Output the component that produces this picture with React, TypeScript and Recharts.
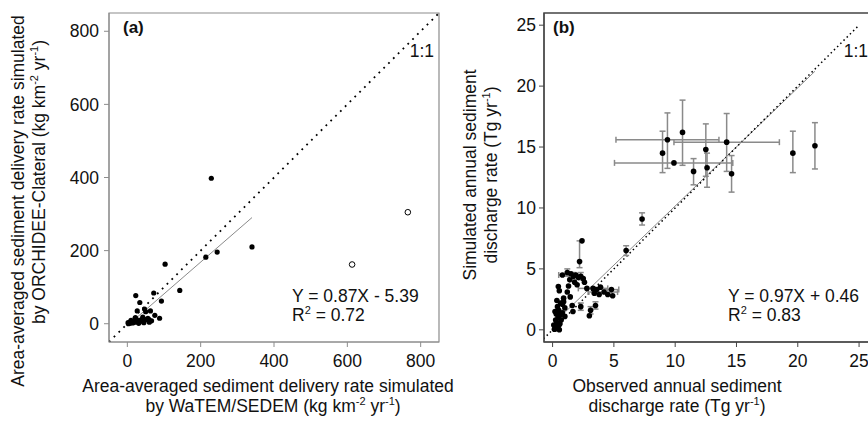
import { ScatterChart, Scatter, XAxis, YAxis, ReferenceLine, ReferenceArea, ErrorBar, Label } from 'recharts'

const FONT = "'Liberation Sans', Arial, sans-serif"
const FS = 17.5

// (a) sediment delivery, kg km-2 yr-1
const ticksA = [0, 200, 400, 600, 800]
const domainA: [number, number] = [-50, 850]

// WaTEM/SEDEM (x) vs ORCHIDEE-Clateral (y)
const basinsA = [
  { x: 229, y: 398 }, { x: 103, y: 163 }, { x: 214, y: 182 }, { x: 245, y: 196 },
  { x: 340, y: 210 }, { x: 143, y: 91 }, { x: 93, y: 62 }, { x: 72, y: 84 },
  { x: 23, y: 77 }, { x: 34, y: 58 }, { x: 27, y: 35 }, { x: 47, y: 40 },
  { x: 50, y: 33 }, { x: 63, y: 35 }, { x: 75, y: 23 }, { x: 88, y: 15 },
  { x: 56, y: 15 }, { x: 50, y: 11 }, { x: 59, y: 11 }, { x: 22, y: 17 },
  { x: 18, y: 8 }, { x: 13, y: 5 }, { x: 9, y: 2 }, { x: 28, y: 5 },
  { x: 39, y: 7 }, { x: 5, y: 1 }, { x: 3, y: 0 }, { x: 15, y: 2 },
  { x: 20, y: 4 }, { x: 31, y: 1 }, { x: 45, y: 3 }, { x: 66, y: 8 },
  { x: 42, y: 18 }, { x: 10, y: 9 }, { x: 60, y: 4 }, { x: 36, y: 10 },
  { x: 25, y: 12 }, { x: 2, y: 3 }, { x: 8, y: 5 },
]

// excluded from the fit
const outliersA = [
  { x: 613, y: 162 },
  { x: 765, y: 305 },
]

const fitA = { slope: 0.87, intercept: -5.39, r2: 0.72, xMin: 0, xMax: 340 }

// (b) annual sediment discharge, Tg yr-1
const ticksB = [0, 5, 10, 15, 20, 25]
const xDomainB: [number, number] = [-0.7, 26.3]
const yDomainB: [number, number] = [-1, 26]

// large rivers, with uncertainty ranges
const largeRiversB = [
  { x: 8.97, y: 14.5, ey: [1.6, 1.8] },
  { x: 9.37, y: 15.6, ex: [4.2, 4.2], ey: [2.35, 2.2] },
  { x: 10.6, y: 16.2, ey: [2.7, 2.65] },
  { x: 9.9, y: 13.7, ex: [4.85, 4.8] },
  { x: 11.5, y: 13.0, ey: [1.1, 1.05] },
  { x: 12.5, y: 14.8, ey: [2.2, 2.1] },
  { x: 12.6, y: 13.3, ey: [1.6, 1.2] },
  { x: 14.2, y: 15.4, ex: [4.3, 4.3], ey: [2.4, 2.35] },
  { x: 14.6, y: 12.8, ey: [1.5, 1.5] },
  { x: 19.6, y: 14.5, ey: [1.6, 1.8] },
  { x: 21.4, y: 15.1, ey: [1.9, 1.9] },
  { x: 7.3, y: 9.1, ey: [0.5, 0.5] },
  { x: 6.0, y: 6.5, ey: [0.4, 0.4] },
  { x: 2.4, y: 7.3 },
  { x: 2.2, y: 5.6, ey: [0.5, 1.7] },
]

const midRiversB = [
  { x: 0.8, y: 4.5, ex: [0.3, 0.5] }, { x: 1.2, y: 4.7, ey: [0.3, 0.3] },
  { x: 1.5, y: 4.6 }, { x: 1.7, y: 4.4, ey: [0.3, 0.3] }, { x: 1.9, y: 4.5 },
  { x: 2.1, y: 4.3 }, { x: 2.3, y: 4.4, ey: [0.3, 0.3] }, { x: 2.5, y: 4.2 },
  { x: 1.4, y: 4.1 }, { x: 1.8, y: 3.9 }, { x: 2.0, y: 3.7 }, { x: 2.6, y: 3.9 },
  { x: 1.3, y: 3.6 }, { x: 2.8, y: 3.4 }, { x: 3.3, y: 3.4, ex: [1.2, 1.2] },
  { x: 3.6, y: 3.3 }, { x: 3.9, y: 3.5 }, { x: 3.4, y: 3.0 }, { x: 3.8, y: 2.9 },
  { x: 4.2, y: 3.1, ex: [1.3, 1.1] }, { x: 4.8, y: 3.3, ex: [0.7, 0.6] },
  { x: 4.9, y: 2.8 }, { x: 4.5, y: 2.9 }, { x: 3.1, y: 1.6, ey: [0.3, 0.3] },
  { x: 3.5, y: 2.0, ey: [0.3, 0.3] }, { x: 3.0, y: 1.15 }, { x: 2.3, y: 1.9, ey: [0.3, 0.3] },
  { x: 1.6, y: 2.0 }, { x: 1.66, y: 1.5 }, { x: 1.0, y: 1.8 }, { x: 0.8, y: 2.1 },
  { x: 1.44, y: 2.7 }, { x: 0.47, y: 3.56 }, { x: 0.55, y: 3.2 }, { x: 0.9, y: 2.6 },
  { x: 1.2, y: 3.1 },
]

const smallRiversB = [
  { x: 0.22, y: 0.27 }, { x: 0.3, y: 0.1 }, { x: 0.15, y: 0.05 }, { x: 0.4, y: 0.2 },
  { x: 0.5, y: 0.35 }, { x: 0.35, y: 0.6 }, { x: 0.25, y: 0.8 }, { x: 0.6, y: 0.5 },
  { x: 0.45, y: 1.0 }, { x: 0.3, y: 1.3 }, { x: 0.6, y: 1.2 }, { x: 0.7, y: 0.8 },
  { x: 0.5, y: 1.6 }, { x: 0.4, y: 1.9 }, { x: 0.65, y: 2.2 }, { x: 0.2, y: 1.5 },
  { x: 0.8, y: 1.4 }, { x: 0.1, y: 0.4 }, { x: 0.55, y: 0.0 }, { x: 1.0, y: 1.1 },
  { x: 0.9, y: 2.3 }, { x: 0.35, y: 2.4 },
]

const fitB = { slope: 0.97, intercept: 0.46, r2: 0.83, xMin: 0.1, xMax: 21.4 }

const fitLine = (f: typeof fitA) => [
  { x: f.xMin, y: f.slope * f.xMin + f.intercept },
  { x: f.xMax, y: f.slope * f.xMax + f.intercept },
]

const fmtFit = (f: typeof fitA) =>
  `Y = ${f.slope.toFixed(2)}X ${f.intercept < 0 ? '-' : '+'} ${Math.abs(f.intercept).toFixed(2)}`

const dot = (r: number) => (p: any) => <circle cx={p.cx} cy={p.cy} r={r} fill="#000" />
const ring = (p: any) => <circle cx={p.cx} cy={p.cy} r={2.8} fill="#fff" stroke="#000" strokeWidth={1} />

const textProps = { fontFamily: FONT, fontSize: FS, fill: '#111' }

// superscript, then the rest of the text back on the baseline
const sup = (s: string, rest: string) => [
  <tspan key="u" dy={-7} fontSize={11}>{s}</tspan>,
  <tspan key="d" dy={7}>{rest}</tspan>,
]

const units = (pre: string) => (
  <>
    {pre}
    <tspan dy={-7} fontSize={11}>-2</tspan>
    <tspan dy={7}> yr</tspan>
    <tspan dy={-7} fontSize={11}>-1</tspan>
    <tspan dy={7}>)</tspan>
  </>
)

const Annotations = ({ tag, tagX, eqX, oneX, fit }: { tag: string; tagX: number; eqX: number; oneX: number; fit: typeof fitA }) => (
  <g>
    <text x={tagX} y={33} {...textProps} fontWeight="bold" fontSize={17}>{tag}</text>
    <text x={oneX} y={57} {...textProps} textAnchor="end">1:1</text>
    <text x={eqX} y={302} {...textProps}>{fmtFit(fit)}</text>
    <text x={eqX} y={321} {...textProps}>
      R{sup('2', ` = ${fit.r2.toFixed(2)}`)}
    </text>
  </g>
)

function PanelA() {
  return (
    <ScatterChart width={480} height={424} margin={{ top: 13, right: 41, left: 0, bottom: 0 }}>
      <XAxis
        type="number"
        dataKey="x"
        domain={domainA}
        ticks={ticksA}
        allowDataOverflow
        height={82}
        tickSize={5}
        tickMargin={8}
        stroke="#8c8c8c"
        tick={{ ...textProps }}
      >
        <Label
          content={() => (
            <g>
              <text x={268} y={392} {...textProps} textAnchor="middle">
                Area-averaged sediment delivery rate simulated
              </text>
              <text x={273} y={412} {...textProps} textAnchor="middle">
                {units('by WaTEM/SEDEM (kg km')}
              </text>
            </g>
          )}
        />
      </XAxis>
      <YAxis
        type="number"
        dataKey="y"
        domain={domainA}
        ticks={ticksA}
        allowDataOverflow
        width={109}
        tickSize={5}
        tickMargin={5}
        stroke="#8c8c8c"
        tick={{ ...textProps }}
      >
        <Label
          content={() => (
            <g>
              <text x={24} y={201} {...textProps} textAnchor="middle" transform="rotate(-90 24 201)">
                Area-averaged sediment delivery rate simulated
              </text>
              <text x={45} y={182} {...textProps} textAnchor="middle" transform="rotate(-90 45 182)">
                {units('by ORCHIDEE-Clateral (kg km')}
              </text>
            </g>
          )}
        />
      </YAxis>
      <ReferenceArea
        x1={domainA[0]}
        x2={domainA[1]}
        y1={domainA[0]}
        y2={domainA[1]}
        fill="none"
        stroke="#8c8c8c"
        strokeWidth={1.2}
        ifOverflow="visible"
      >
        <Label content={() => <Annotations tag="(a)" tagX={123} eqX={292} oneX={434} fit={fitA} />} />
      </ReferenceArea>
      <ReferenceLine
        segment={[{ x: domainA[0], y: domainA[0] }, { x: domainA[1], y: domainA[1] }]}
        stroke="#000"
        strokeWidth={1.8}
        strokeDasharray="1.8 5"
        ifOverflow="hidden"
      />
      <ReferenceLine segment={fitLine(fitA)} stroke="#8a8a8a" strokeWidth={1} />
      <Scatter data={basinsA} shape={dot(2.6)} isAnimationActive={false} />
      <Scatter data={outliersA} shape={ring} isAnimationActive={false} />
    </ScatterChart>
  )
}

function PanelB() {
  const allB = [...largeRiversB, ...midRiversB, ...smallRiversB]
  return (
    <ScatterChart width={440} height={424} margin={{ top: 13, right: 5, left: 0, bottom: 0 }}>
      <XAxis
        type="number"
        dataKey="x"
        domain={xDomainB}
        ticks={ticksB}
        allowDataOverflow
        height={82}
        tickSize={5}
        tickMargin={8}
        stroke="#444"
        tick={{ ...textProps }}
      >
        <Label
          content={() => (
            <g>
              <text x={237} y={392} {...textProps} textAnchor="middle">
                Observed annual sediment
              </text>
              <text x={237} y={412} {...textProps} textAnchor="middle">
                discharge rate (Tg yr{sup('-1', ')')}
              </text>
            </g>
          )}
        />
      </XAxis>
      <YAxis
        type="number"
        dataKey="y"
        domain={yDomainB}
        ticks={ticksB}
        allowDataOverflow
        width={104}
        tickSize={5}
        tickMargin={3}
        stroke="#444"
        tick={{ ...textProps }}
      >
        <Label
          content={() => (
            <g>
              <text x={36} y={175} {...textProps} textAnchor="middle" transform="rotate(-90 36 175)">
                Simulated annual sediment
              </text>
              <text x={57} y={175} {...textProps} textAnchor="middle" transform="rotate(-90 57 175)">
                discharge rate (Tg yr{sup('-1', ')')}
              </text>
            </g>
          )}
        />
      </YAxis>
      <ReferenceArea
        x1={xDomainB[0]}
        x2={xDomainB[1]}
        y1={yDomainB[0]}
        y2={yDomainB[1]}
        fill="none"
        stroke="#444"
        strokeWidth={1.5}
        ifOverflow="visible"
      >
        <Label content={() => <Annotations tag="(b)" tagX={113} eqX={288} oneX={428} fit={fitB} />} />
      </ReferenceArea>
      <ReferenceLine segment={fitLine(fitB)} stroke="#8a8a8a" strokeWidth={1} />
      <ReferenceLine
        segment={[{ x: -1, y: -1 }, { x: 25, y: 25 }]}
        stroke="#000"
        strokeWidth={1.5}
        strokeDasharray="1.5 3"
        ifOverflow="hidden"
      />
      <Scatter data={allB} shape={dot(2.8)} isAnimationActive={false}>
        <ErrorBar dataKey="ey" direction="y" stroke="#8a8a8a" strokeWidth={1.5} width={3} />
        <ErrorBar dataKey="ex" direction="x" stroke="#8a8a8a" strokeWidth={1.5} width={3} />
      </Scatter>
    </ScatterChart>
  )
}

export default function App() {
  return (
    <div
      style={{
        position: 'absolute',
        left: 0,
        top: 0,
        width: 868,
        height: 424,
        overflow: 'hidden',
        background: '#fff',
      }}
    >
      <div style={{ position: 'absolute', left: 0, top: 0 }}>
        <PanelA />
      </div>
      <div style={{ position: 'absolute', left: 440, top: 0 }}>
        <PanelB />
      </div>
    </div>
  )
}
